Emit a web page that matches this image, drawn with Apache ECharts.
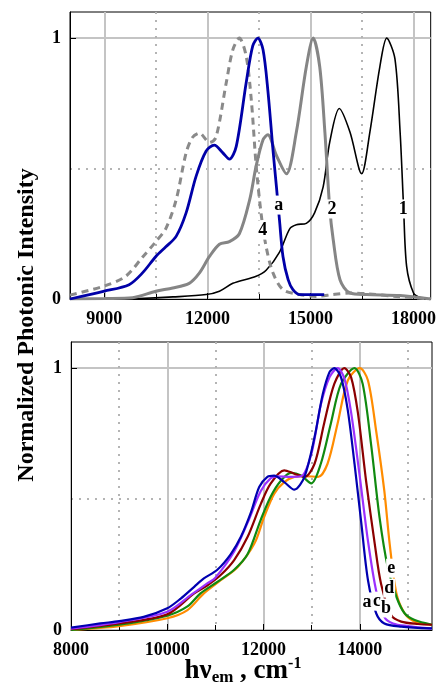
<!DOCTYPE html>
<html>
<head>
<meta charset="utf-8">
<script src="https://cdn.jsdelivr.net/npm/echarts@6/dist/echarts.min.js"></script>
<style>
  html, body { margin: 0; padding: 0; background: #fff; }
  #chart { width: 439px; height: 682px; }
</style>
</head>
<body>
<div id="chart"></div>
<script>
// top panel curves [hv, intensity]
const top1 = [[8000,0],[9000,0],[10000,0.002],[11000,0.008],[11960,0.017],[12350,0.03],[12740,0.06],[13420,0.087],[13710,0.11],[14100,0.18],[14400,0.27],[14590,0.285],[14880,0.29],[15120,0.33],[15370,0.43],[15560,0.6],[15840,0.73],[16150,0.64],[16490,0.48],[16730,0.64],[17020,0.89],[17220,1.0],[17460,0.92],[17610,0.64],[17710,0.355],[17800,0.125],[18000,0.023],[18190,0.006],[18500,0]]
const top2 = [[8000,0],[9000,0.002],[9820,0.005],[10500,0.03],[10990,0.042],[11470,0.06],[11770,0.1],[12060,0.163],[12350,0.21],[12640,0.22],[12930,0.25],[13230,0.38],[13420,0.51],[13620,0.61],[13760,0.63],[14010,0.55],[14300,0.48],[14590,0.64],[14880,0.89],[15080,1],[15270,0.89],[15420,0.64],[15560,0.35],[15660,0.23],[15860,0.074],[16150,0.023],[16640,0.017],[17610,0.013],[18500,0]]
const top4 = [[8000,0.015],[9000,0.05],[9620,0.087],[10110,0.16],[10500,0.22],[10790,0.27],[11090,0.38],[11380,0.56],[11570,0.62],[11770,0.636],[12060,0.6],[12250,0.62],[12550,0.83],[12740,0.955],[12930,1],[13130,0.93],[13280,0.76],[13420,0.51],[13570,0.32],[13710,0.2],[13910,0.1],[14200,0.036],[14690,0.017],[15170,0.01],[15660,0.017],[16150,0.023],[16640,0.02],[17500,0.01],[18500,0]]
const topA = [[8000,0],[9000,0.03],[9720,0.055],[10110,0.1],[10500,0.163],[10790,0.2],[11090,0.24],[11380,0.33],[11670,0.47],[11960,0.566],[12200,0.59],[12450,0.56],[12640,0.536],[12840,0.585],[13130,0.83],[13320,0.97],[13470,1],[13620,0.955],[13760,0.8],[13910,0.57],[14010,0.43],[14100,0.3],[14200,0.163],[14350,0.074],[14490,0.036],[14690,0.017],[15400,0.017]]

// bottom panel curves
const botA = [[8000,0.009],[8610,0.025],[9000,0.034],[9510,0.05],[10000,0.083],[10280,0.12],[10560,0.165],[10760,0.197],[11040,0.23],[11320,0.29],[11530,0.356],[11740,0.45],[11910,0.546],[12080,0.585],[12220,0.59],[12430,0.565],[12640,0.536],[12850,0.585],[13060,0.737],[13230,0.9],[13370,0.985],[13470,1],[13610,0.965],[13750,0.84],[13890,0.635],[14030,0.41],[14170,0.19],[14340,0.064],[14510,0.025],[14860,0.013],[15500,0.006]]
const botB = [[8000,0.005],[9000,0.03],[10000,0.07],[10500,0.135],[10830,0.178],[11000,0.2],[11390,0.3],[11670,0.41],[11940,0.53],[12150,0.58],[12290,0.587],[12570,0.585],[12780,0.587],[12990,0.67],[13190,0.86],[13370,0.965],[13540,1],[13680,0.96],[13820,0.83],[14000,0.585],[14170,0.34],[14340,0.15],[14510,0.05],[14690,0.025],[15000,0.015],[15500,0.005]]
const botC = [[8000,0.003],[9000,0.025],[10000,0.06],[10560,0.14],[10830,0.17],[11110,0.21],[11390,0.267],[11670,0.356],[11940,0.48],[12150,0.56],[12430,0.61],[12640,0.597],[12850,0.585],[13060,0.635],[13260,0.79],[13470,0.94],[13680,1],[13820,0.965],[13960,0.83],[14130,0.57],[14310,0.33],[14440,0.178],[14650,0.057],[14860,0.032],[15210,0.023],[15500,0.02]]
const botD = [[8000,0],[9000,0.02],[10000,0.055],[10420,0.09],[10690,0.14],[11040,0.184],[11390,0.23],[11670,0.29],[11940,0.42],[12150,0.51],[12360,0.57],[12570,0.6],[12780,0.59],[12990,0.56],[13190,0.635],[13400,0.79],[13610,0.94],[13890,1],[14060,0.94],[14240,0.7],[14410,0.43],[14580,0.24],[14760,0.127],[14930,0.064],[15140,0.038],[15500,0.02]]
const botE = [[8000,0],[9000,0.015],[10000,0.045],[10420,0.076],[10760,0.14],[11110,0.19],[11460,0.24],[11810,0.33],[12010,0.43],[12220,0.52],[12430,0.565],[12640,0.585],[12850,0.588],[13130,0.585],[13330,0.635],[13540,0.79],[13750,0.953],[14000,1],[14170,0.953],[14340,0.76],[14510,0.53],[14620,0.33],[14760,0.14],[14930,0.064],[15140,0.032],[15500,0.02]]

// curve tags [hv, intensity, text]
const topTags = [[14076,0.36,'a'],[15624,0.345,'2'],[17698,0.345,'1'],[13608,0.264,'4']]
const botTags = [[14651,0.236,'e'],[14610,0.16,'d'],[14151,0.107,'a'],[14359,0.11,'c'],[14547,0.084,'b']]

// tick values
const topMajorX = [9000, 12000, 15000, 18000]
const topMinorX = [10500, 13500, 16500]
const botMajorX = [8000, 10000, 12000, 14000]
const botMinorX = [9000, 11000, 13000, 15000]
const majorY = [0, 1]
const minorY = [0.5]

const FONT = 'Liberation Serif'
const labelStyle = { color: '#000', fontFamily: FONT, fontWeight: 'bold', fontSize: 18, formatter: v => String(v) }
const solidGrid = { show: true, lineStyle: { color: '#c4c4c4', width: 2, type: 'solid' } }
const dotGrid = { show: true, lineStyle: { color: '#b4b4b4', width: 2, type: [2, 6] } }

function xAxes(grid, min, max, major, minor) {
  return [
    {
      type: 'value', gridIndex: grid, min: min, max: max,
      axisLine: { show: true, lineStyle: { color: '#000', width: 1 } },
      axisTick: { show: true, inside: true, length: 6, customValues: major, lineStyle: { color: '#000' } },
      axisLabel: Object.assign({ customValues: major, margin: 11 }, labelStyle),
      splitLine: solidGrid
    },
    {
      type: 'value', gridIndex: grid, min: min, max: max, position: 'bottom',
      axisLine: { show: false },
      axisTick: { show: true, inside: true, length: 5, customValues: minor, lineStyle: { color: '#000' } },
      axisLabel: { show: false },
      splitLine: dotGrid
    }
  ]
}

function yAxes(grid) {
  return [
    {
      type: 'value', gridIndex: grid, min: 0, max: 1.1,
      axisLine: { show: true, lineStyle: { color: '#000', width: 1 } },
      axisTick: { show: true, inside: true, length: 6, customValues: majorY, lineStyle: { color: '#000' } },
      axisLabel: Object.assign({ customValues: majorY, margin: 9 }, labelStyle),
      splitLine: solidGrid
    },
    {
      type: 'value', gridIndex: grid, min: 0, max: 1.1, position: 'left',
      axisLine: { show: false },
      axisTick: { show: false, customValues: minorY },
      axisLabel: { show: false },
      splitLine: dotGrid
    }
  ]
}

function curve(data, xi, color, width, type) {
  return {
    type: 'line', data: data, xAxisIndex: xi, yAxisIndex: xi,
    smooth: 0.3, showSymbol: false, symbol: 'none',
    lineStyle: { color: color, width: width, type: type || 'solid' },
    z: 3
  }
}

const chart = echarts.init(document.getElementById('chart'), null, { renderer: 'canvas' })

const titles = [
  {
    type: 'text', x: 27, y: 325, rotation: Math.PI / 2,
    style: {
      text: 'Normalized Photonic Intensity',
      font: 'bold 24px "Liberation Serif"', fill: '#000',
      align: 'center', verticalAlign: 'middle'
    }
  },
  {
    type: 'text', x: 243, y: 671,
    style: {
      text: '{m|hν}{s|em}{m| , cm}{p|-1}',
      align: 'center', verticalAlign: 'middle', fill: '#000',
      rich: {
        m: { fontFamily: FONT, fontWeight: 'bold', fontSize: 27, lineHeight: 30, verticalAlign: 'middle' },
        s: { fontFamily: FONT, fontWeight: 'bold', fontSize: 17, lineHeight: 12, verticalAlign: 'bottom' },
        p: { fontFamily: FONT, fontWeight: 'bold', fontSize: 16, lineHeight: 12, verticalAlign: 'top' }
      }
    }
  }
]

chart.setOption({
  animation: false,
  backgroundColor: '#fff',
  grid: [
    { left: 70, top: 12, width: 361, height: 287, show: true, borderColor: '#000', borderWidth: 1 },
    { left: 71, top: 342, width: 361, height: 288, show: true, borderColor: '#000', borderWidth: 1 }
  ],
  xAxis: xAxes(0, 8000, 18500, topMajorX, topMinorX).concat(xAxes(1, 8000, 15500, botMajorX, botMinorX)),
  yAxis: yAxes(0).concat(yAxes(1)),
  series: [
    curve(top1, 0, '#000', 1.6),
    curve(top2, 0, '#858585', 3),
    curve(top4, 0, '#8a8a8a', 3, [7, 5]),
    curve(topA, 0, '#0000a8', 2.8),
    curve(botE, 2, '#ff8c00', 2.2),
    curve(botD, 2, '#108a10', 2.2),
    curve(botC, 2, '#8b0000', 2.2),
    curve(botB, 2, '#9b30ff', 2.2),
    curve(botA, 2, '#0000b0', 2.2)
  ],
  graphic: titles
})

// curve tags placed through the axes' scales, with a white box that cuts the line
function tagGraphics(list, xi) {
  return list.map(t => {
    const p = chart.convertToPixel({ xAxisIndex: xi, yAxisIndex: xi }, [t[0], t[1]])
    return {
      type: 'text', x: p[0], y: p[1], z: 100,
      style: {
        text: t[2], font: 'bold 18px "Liberation Serif"', fill: '#000',
        align: 'center', verticalAlign: 'middle',
        backgroundColor: '#fff', padding: [1, 1, 0, 1]
      }
    }
  })
}

chart.setOption({
  graphic: titles.concat(tagGraphics(topTags, 0), tagGraphics(botTags, 2))
})
</script>
</body>
</html>
